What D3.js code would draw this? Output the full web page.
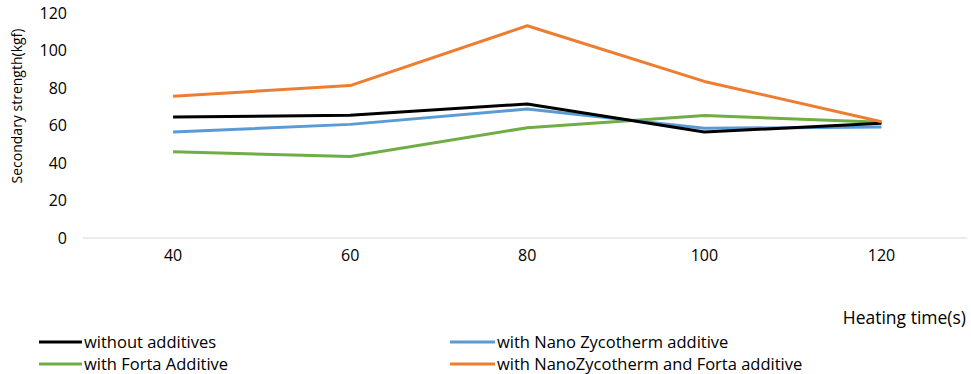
<!DOCTYPE html>
<html><head><meta charset="utf-8">
<script src="https://cdn.jsdelivr.net/npm/d3@7"></script>
<style>body{margin:0;background:#fff}svg{display:block}</style>
</head><body>
<script>
const categories = ["40","60","80","100","120"];
const yTicks = [0,20,40,60,80,100,120];
const seriesNames = ["without additives","with Nano Zycotherm additive","with Forta Additive","with NanoZycotherm and Forta additive"];
const withoutAdditives = [64.5, 65.5, 71.5, 56.5, 61.2];
const withNanoZycotherm = [56.5, 60.6, 68.8, 58.5, 59.2];
const withForta = [46, 43.5, 58.8, 65.3, 61.7];
const withNanoAndForta = [75.6, 81.3, 113.2, 83.5, 62];
const colors = ["#000000","#5b9bd5","#70ad47","#ed7d31"];

const W=971,H=374;
const svg=d3.select("body").append("svg").attr("width",W).attr("height",H);
const font="'Open Sans', sans-serif";
const x=d3.scaleBand().domain(categories).range([84.5,970]);
const y=d3.scaleLinear().domain([0,120]).range([238,13]);

svg.append("line").attr("x1",83).attr("x2",967).attr("y1",y(0)).attr("y2",y(0))
  .attr("stroke","#d9d9d9").attr("stroke-width",1.2);

const ya=svg.append("g").attr("transform","translate(67,0)")
  .call(d3.axisLeft(y).tickValues(yTicks).tickSize(0).tickPadding(0));
ya.select(".domain").remove();
ya.selectAll("text").attr("font-family",font).attr("font-size",16).attr("fill","#000");

const xa=svg.append("g").attr("transform","translate(0,250)")
  .call(d3.axisBottom(x).tickSize(0).tickPadding(0));
xa.select(".domain").remove();
xa.selectAll("text").attr("font-family",font).attr("font-size",16).attr("fill","#000");

svg.append("text").attr("transform","translate(22,106) rotate(-90)")
  .attr("text-anchor","middle").attr("font-family",font).attr("font-size",14)
  .attr("fill","#000").text("Secondary strength(kgf)");
svg.append("text").attr("x",966).attr("y",324).attr("text-anchor","end")
  .attr("font-family",font).attr("font-size",17.5).attr("fill","#000").text("Heating time(s)");

const allSeries=[withoutAdditives,withNanoZycotherm,withForta,withNanoAndForta];
const line=d3.line().x((d,i)=>x(categories[i])+x.bandwidth()/2).y(d=>y(d));
[2,1,0,3].forEach(k=>{
  svg.append("path").datum(allSeries[k]).attr("d",line)
    .attr("fill","none").attr("stroke",colors[k]).attr("stroke-width",3)
    .attr("stroke-linejoin","round");
});

const legPos=[[39,342],[450,342],[39,364],[450,364]];
const legLen=[43,45,43,45];
seriesNames.forEach((n,k)=>{
  const [lx,ly]=legPos[k];
  svg.append("line").attr("x1",lx).attr("x2",lx+legLen[k]).attr("y1",ly).attr("y2",ly)
    .attr("stroke",colors[k]).attr("stroke-width",3);
  svg.append("text").attr("x",lx+legLen[k]+2).attr("y",ly).attr("dy","0.35em")
    .attr("font-family",font).attr("font-size",16.5).attr("fill","#000").text(n);
});
</script>
</body></html>
